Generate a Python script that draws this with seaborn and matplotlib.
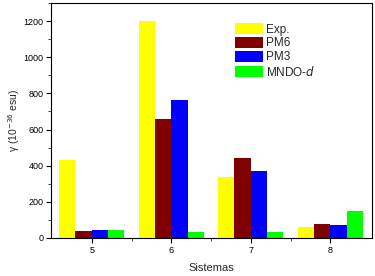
import pandas as pd
import numpy as np
import matplotlib.pyplot as plt
import seaborn as sns
from matplotlib.ticker import MultipleLocator, AutoMinorLocator

sistemas = ['5', '6', '7', '8']
exp_vals = [432, 1200, 338, 61]
pm6_vals = [41, 659, 443, 78]
pm3_vals = [46, 764, 371, 72]
mndo_vals = [46, 30, 30, 151]
metodos = ['Exp.', 'PM6', 'PM3', 'MNDO-$d$']
colores = ['#FFFF00', '#800000', '#0000FF', '#00FF00']

df = pd.DataFrame({
    'Sistemas': sistemas * 4,
    'valor': exp_vals + pm6_vals + pm3_vals + mndo_vals,
    'metodo': [m for m in metodos for _ in sistemas],
})

sns.set_theme(style="ticks")
plt.rcParams['font.family'] = ['Liberation Sans', 'DejaVu Sans']

fig = plt.figure(figsize=(3.75, 2.76), dpi=100)
ax = fig.add_axes([0.136, 0.138, 0.856, 0.851])

sns.barplot(data=df, x='Sistemas', y='valor', hue='metodo',
            palette=colores, width=0.82, saturation=1, ax=ax,
            linewidth=0, errorbar=None)

ax.set_xlim(-0.513, 3.525)
ax.set_ylim(0, 1300)
ax.yaxis.set_major_locator(MultipleLocator(200))
ax.yaxis.set_minor_locator(MultipleLocator(100))
ax.set_xticks([0.5, 1.5, 2.5], minor=True)

for s in ax.spines.values():
    s.set_linewidth(0.8)
    s.set_color('black')
ax.tick_params(which='major', direction='out', length=3.5, width=0.8,
               labelsize=6.5, pad=2, colors='black')
ax.tick_params(which='minor', direction='out', length=2, width=0.6)

ax.set_xlabel('Sistemas', fontsize=8, labelpad=6)
ax.set_ylabel('γ (10$^{-36}$ esu)', fontsize=7.5, labelpad=1)

ax.legend(loc='upper left', bbox_to_anchor=(0.56, 0.935), frameon=False,
          fontsize=8.5, handlelength=2.3, handleheight=1.05,
          labelspacing=0.12, handletextpad=0.3, borderaxespad=0)

plt.savefig('out.png', dpi=100)
